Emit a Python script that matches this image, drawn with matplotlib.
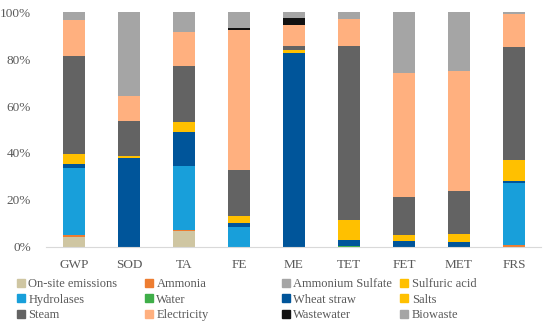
import numpy as np
import matplotlib.pyplot as plt
from matplotlib.patches import Patch

plt.rcParams['font.family'] = ['Liberation Serif', 'DejaVu Serif']

categories = ['GWP', 'SOD', 'TA', 'FE', 'ME', 'TET', 'FET', 'MET', 'FRS']

# contributions (%), bottom to top
onsite       = [4.3, 0.0, 6.8, 0.0, 0.0, 0.0, 0.0, 0.0, 0.0]
ammonia      = [0.7, 0.0, 0.3, 0.0, 0.0, 0.0, 0.0, 0.0, 0.6]
amm_sulfate  = [0.0, 0.0, 0.0, 0.0, 0.0, 0.0, 0.0, 0.0, 0.0]
sulfuric     = [0.0, 0.0, 0.0, 0.0, 0.0, 0.0, 0.0, 0.0, 0.0]
hydrolases   = [28.5, 0.0, 27.4, 8.3, 0.0, 0.0, 0.0, 0.0, 26.8]
water        = [0.0, 0.0, 0.0, 0.0, 0.0, 0.4, 0.0, 0.0, 0.0]
wheat_straw  = [1.7, 38.0, 14.4, 2.0, 82.6, 2.4, 2.4, 2.0, 0.7]
salts        = [4.3, 0.7, 4.3, 2.8, 1.4, 8.8, 2.8, 3.3, 9.1]
steam        = [42.0, 15.0, 23.9, 19.8, 1.9, 74.2, 16.0, 18.4, 48.1]
electricity  = [15.4, 10.7, 14.8, 59.7, 8.7, 11.4, 52.8, 51.6, 14.0]
wastewater   = [0.0, 0.0, 0.0, 0.7, 3.0, 0.0, 0.0, 0.0, 0.0]
biowaste     = [3.3, 35.8, 8.3, 6.8, 2.6, 2.8, 26.0, 24.9, 0.9]

names = ['On-site emissions', 'Ammonia', 'Ammonium Sulfate', 'Sulfuric acid',
         'Hydrolases', 'Water', 'Wheat straw', 'Salts',
         'Steam', 'Electricity', 'Wastewater', 'Biowaste']
series = [onsite, ammonia, amm_sulfate, sulfuric, hydrolases, water,
          wheat_straw, salts, steam, electricity, wastewater, biowaste]
colors = ['#CFC6A2', '#ED7D31', '#A5A5A5', '#FFC000',
          '#189FDA', '#3FAE49', '#00559A', '#FFC000',
          '#636363', '#FFB07F', '#111111', '#A5A5A5']

fig = plt.figure(figsize=(5.5, 3.24), dpi=100)
ax = fig.add_axes([0.0845, 0.2386, 0.9, 0.7234])

x = np.arange(len(categories))
data = np.array(series, dtype=float)
totals = data.sum(axis=0)
pct = data / totals * 100
bottom = np.zeros(len(categories))
for vals, c in zip(pct, colors):
    ax.bar(x, vals, 0.4, bottom=bottom, color=c, linewidth=0)
    bottom += vals

ax.set_xlim(-0.5, len(categories) - 0.5)
ax.set_ylim(0, 100)
ax.set_yticks(np.arange(0, 101, 20))
ax.set_yticklabels([f'{v}%' for v in range(0, 101, 20)])
ax.set_xticks(x)
ax.set_xticklabels(categories)
ax.tick_params(length=0, labelsize=9.5, colors='#595959')
ax.tick_params(axis='x', pad=9)
ax.tick_params(axis='y', pad=11)
for s in ['top', 'right', 'left']:
    ax.spines[s].set_visible(False)
ax.spines['bottom'].set_color('#D9D9D9')

# legend laid out as four columns, three rows
col_x = [0.031, 0.264, 0.513, 0.728]
for c in range(4):
    handles = [Patch(color=colors[r * 4 + c], label=names[r * 4 + c]) for r in range(3)]
    fig.legend(handles=handles, loc='upper left', bbox_to_anchor=(col_x[c], 0.142),
               frameon=False, fontsize=9, handlelength=0.6, handleheight=0.6,
               handletextpad=0.3, labelspacing=0.29, borderaxespad=0, borderpad=0,
               labelcolor='#595959')

fig.savefig('out.png', dpi=100)
